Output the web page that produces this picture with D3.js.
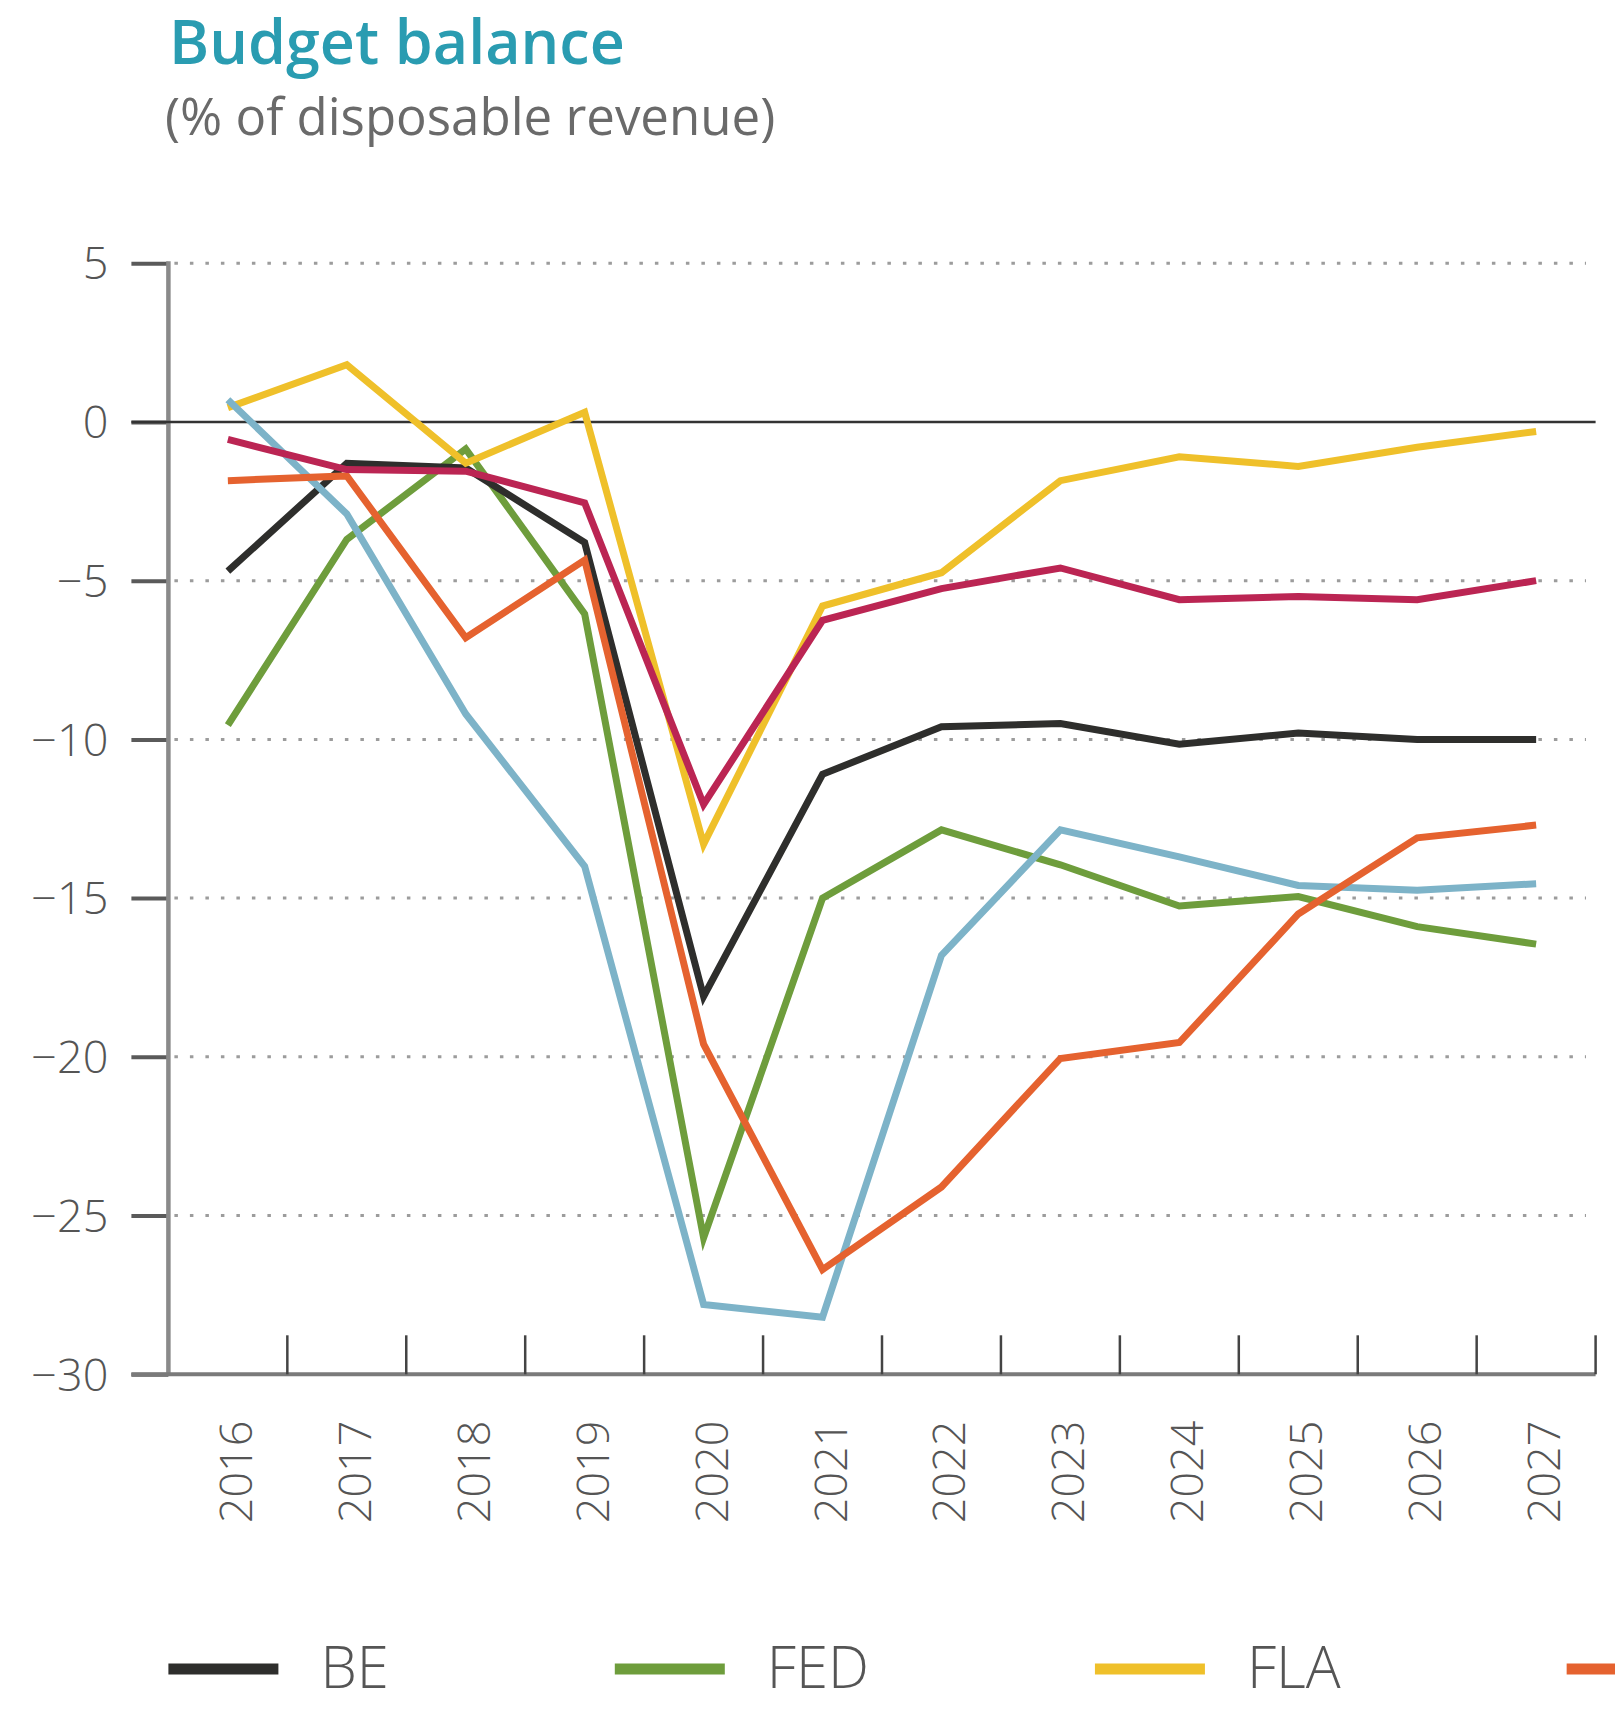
<!DOCTYPE html>
<html>
<head>
<meta charset="utf-8">
<script src="https://cdn.jsdelivr.net/npm/d3@7"></script>
<style>
  html, body { margin: 0; padding: 0; background: #ffffff; }
  svg { display: block; }
</style>
</head>
<body>
<div id="chart"></div>
<script>
// ---------- data ----------
const years = ["2016","2017","2018","2019","2020","2021","2022","2023","2024","2025","2026","2027"];
const yTicks = [5, 0, -5, -10, -15, -20, -25, -30];
const gridValues = [5, -5, -10, -15, -20, -25];

const seriesNames = ["BE", "FED", "FLA", "WAL", "BRU", "FWB"];
const BE  = [-4.7, -1.3, -1.45, -3.8, -18.1, -11.1, -9.6, -9.5, -10.15, -9.8, -10.0, -10.0];
const FED = [-9.55, -3.7, -0.85, -6.05, -25.7, -15.0, -12.85, -13.95, -15.25, -14.95, -15.9, -16.45];
const FLA = [0.45, 1.8, -1.3, 0.3, -13.3, -5.8, -4.75, -1.85, -1.1, -1.4, -0.8, -0.3];
const WAL = [-1.85, -1.7, -6.8, -4.35, -19.6, -26.7, -24.1, -20.05, -19.55, -15.5, -13.1, -12.7];
const BRU = [0.7, -2.9, -9.2, -14.0, -27.8, -28.2, -16.8, -12.85, -13.7, -14.6, -14.75, -14.55];
const FWB = [-0.55, -1.5, -1.55, -2.55, -12.05, -6.25, -5.25, -4.6, -5.6, -5.5, -5.6, -5.0];

const seriesValues = { BE, FED, FLA, WAL, BRU, FWB };
const seriesColors = { BE: "#2e2e2c", FED: "#6e9d3c", FLA: "#efc02a", WAL: "#e5622f", BRU: "#7db3c8", FWB: "#bb2553" };
const drawOrder = ["FED", "BE", "FLA", "BRU", "WAL", "FWB"];
const legendOrder = ["BE", "FED", "FLA", "WAL", "BRU", "FWB"];

const titleText = "Budget balance";
const subtitleText = "(% of disposable revenue)";

// ---------- layout ----------
const W = 1615, H = 1714;
const axisX = 168.4, rightX = 1595.6;
const topY = 263.2, bottomY = 1374.3;
const FONT = "'Open Sans', 'Noto Sans', sans-serif";

const svg = d3.select("#chart").append("svg")
  .attr("width", W).attr("height", H)
  .attr("viewBox", `0 0 ${W} ${H}`)
  .style("overflow", "hidden");

const x = d3.scaleBand().domain(years).range([axisX, rightX]).padding(0);
const y = d3.scaleLinear().domain([-30, 5]).range([bottomY, topY]);

// title
svg.append("text")
  .attr("x", 169).attr("y", 64)
  .attr("font-family", FONT).attr("font-weight", 600)
  .attr("font-size", 61).attr("fill", "#2a9cb1")
  .text(titleText);
svg.append("text")
  .attr("x", 165).attr("y", 135)
  .attr("font-family", FONT).attr("font-weight", 400)
  .attr("font-size", 51).attr("fill", "#6a6a6a")
  .text(subtitleText);

// dotted grid
svg.append("g").selectAll("line").data(gridValues).join("line")
  .attr("x1", axisX + 6).attr("x2", 1586)
  .attr("y1", d => y(d)).attr("y2", d => y(d))
  .attr("stroke", "#9c9c9c").attr("stroke-width", 3)
  .attr("stroke-dasharray", "3.5 12");

// y axis
const yAxis = d3.axisLeft(y).tickValues(yTicks).tickSize(37).tickPadding(23)
  .tickFormat(d3.format("d"));
const gy = svg.append("g").attr("transform", `translate(${axisX},0)`).call(yAxis);
gy.select(".domain").remove();
gy.selectAll(".tick line").attr("stroke", "#5a5a5a").attr("stroke-width", 4);
gy.selectAll(".tick text")
  .attr("font-family", FONT).attr("font-weight", 300)
  .attr("font-size", 45).attr("fill", "#555").attr("dy", "0.35em");
svg.append("line")
  .attr("x1", axisX).attr("x2", axisX)
  .attr("y1", y(5) - 2).attr("y2", y(-30))
  .attr("stroke", "#8a8a8a").attr("stroke-width", 4.5);

// zero line
svg.append("line")
  .attr("x1", axisX - 37).attr("x2", rightX)
  .attr("y1", y(0)).attr("y2", y(0))
  .attr("stroke", "#333").attr("stroke-width", 2.5);

// x axis
svg.append("line")
  .attr("x1", axisX - 37).attr("x2", rightX)
  .attr("y1", y(-30)).attr("y2", y(-30))
  .attr("stroke", "#7a7a7a").attr("stroke-width", 4);
svg.append("g").selectAll("line").data(years).join("line")
  .attr("x1", d => x(d) + x.bandwidth()).attr("x2", d => x(d) + x.bandwidth())
  .attr("y1", y(-30)).attr("y2", y(-30) - 39)
  .attr("stroke", "#444").attr("stroke-width", 2.5);
svg.append("g").selectAll("text").data(years).join("text")
  .attr("transform", d => `translate(${x(d) + x.bandwidth() / 2 + 24},${y(-30) + 149}) rotate(-90)`)
  .attr("font-family", FONT).attr("font-weight", 300)
  .attr("font-size", 45).attr("fill", "#555")
  .text(d => d);

// lines
const line = d3.line()
  .x((d, i) => x(years[i]) + x.bandwidth() / 2)
  .y(d => y(d));
svg.append("g").selectAll("path").data(drawOrder).join("path")
  .attr("d", k => line(seriesValues[k]))
  .attr("fill", "none")
  .attr("stroke", k => seriesColors[k])
  .attr("stroke-width", 7)
  .attr("stroke-linejoin", "miter");

// legend
const legY = 1669;
const lg = svg.append("g");
let cx = 168.4;
legendOrder.forEach(k => {
  if (cx > W) return;
  lg.append("line")
    .attr("x1", cx).attr("x2", cx + 110)
    .attr("y1", legY).attr("y2", legY)
    .attr("stroke", seriesColors[k]).attr("stroke-width", 11);
  const tx = cx + 152;
  if (tx < W) {
    const t = lg.append("text")
      .attr("x", tx).attr("y", legY + 19)
      .attr("font-family", FONT).attr("font-weight", 300)
      .attr("font-size", 58).attr("fill", "#555")
      .text(k);
    cx = tx + t.node().getComputedTextLength() + 226;
  } else {
    cx = W + 1;
  }
});
</script>
</body>
</html>
